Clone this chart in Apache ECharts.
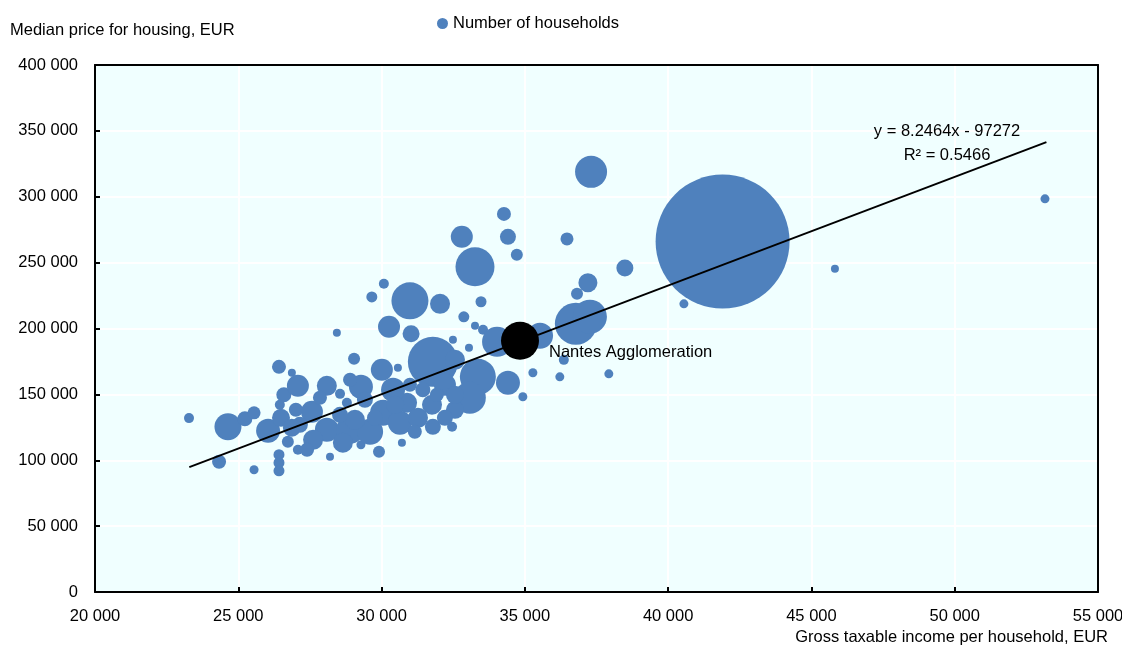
<!DOCTYPE html>
<html>
<head>
<meta charset="utf-8">
<script src="https://cdn.jsdelivr.net/npm/echarts@6/dist/echarts.min.js"></script>
<style>
  html, body { margin: 0; padding: 0; background: #fff; }
  #chart { width: 1122px; height: 646px; }
</style>
</head>
<body>
<div id="chart"></div>
<script>
// gross taxable income per household (EUR)
const income = [
  23280, 24640, 24330, 25550, 26420, 26870, 25230, 25550, 26420, 26420,
  26420, 26040, 26490, 26590, 26450, 27080, 27080, 26730, 28090, 28550,
  29040, 28440, 29280, 30010, 30260, 29660, 30080, 30990, 31030, 32040,
  32800, 33260, 34270, 34410, 34720, 33470, 32870, 33260, 33540, 32490,
  33050, 36470, 37310, 38490, 37200, 36820, 40550, 41900, 45820, 53150,
  36780, 37270, 35530, 34030, 35280, 36220, 36360, 37930, 34410, 34930,
  31790, 33360, 33080, 32460, 30710, 29910, 30570, 31440, 27570, 28090,
  27610, 28900, 28650, 28200, 27400, 29280, 29600, 30050, 30640, 30890,
  30400, 31270, 31790, 31760, 28790, 29070, 32210, 32560,
  30470, 28550, 31160, 32210, 32560, 29420, 27850, 27150, 29770, 31930,
  28900, 30990, 26870, 27010, 32560
];
// median price for housing (EUR)
const price = [
  132000, 125400, 98900, 92800, 170900, 166400, 131500, 136000, 104200, 98100,
  92000, 122400, 132200, 149700, 142100, 156500, 108000, 114000, 156500, 150400,
  177000, 196700, 155800, 168700, 201300, 224000, 233900, 221000, 196000, 218700,
  269600, 246800, 287000, 269600, 255900, 220300, 208900, 202000, 199000, 191400,
  185400, 268000, 318900, 246000, 234700, 226300, 218700, 266000, 245300, 298400,
  203600, 208900, 194500, 189900, 166400, 163300, 176200, 165600, 158800, 148200,
  174700, 163300, 147400, 125400, 113300, 106400, 170200, 153500, 136800, 123100,
  115500, 123100, 113300, 102700, 108000, 111800, 121600, 136000, 128400, 143600,
  153500, 132200, 125400, 142100, 143600, 130700, 157300, 138300,
  142100, 134500, 121600, 132200, 149700, 145900, 147400, 126900, 132200, 149700,
  161100, 157300, 124700, 138300, 176200
];
// number of households
const households = [
  625, 4560, 1225, 510, 1225, 400, 1410, 1060, 756, 756,
  756, 3600, 2025, 1410, 625, 3025, 625, 900, 2500, 625,
  900, 400, 3600, 3025, 3025, 756, 625, 8556, 1806, 2500,
  3025, 9506, 1225, 1600, 900, 756, 756, 400, 625, 400,
  400, 1056, 6400, 1806, 2256, 900, 506, 112225, 400, 506,
  11025, 7225, 4225, 5625, 506, 506, 625, 506, 3600, 506,
  15625, 8100, 6400, 625, 400, 900, 400, 1410, 3025, 3600,
  2500, 4900, 2500, 400, 1225, 506, 4225, 4225, 3600, 2500,
  3600, 2500, 1600, 2500, 625, 2500, 3025, 2025,
  2025, 1600, 1225, 1600, 2025, 1600, 1225, 1600, 1600, 1225,
  1225, 1225, 2025, 1225, 2500
];

const nantes = { name: 'Nantes Agglomeration', income: 34830, price: 190700, households: 9025 };

// trend line shown on the chart
const trendSlope = 8.2464;
const trendIntercept = -97272;
const trendFrom = 23290;
const trendTo = 53200;

const xTicks = [20000, 55000, 5000];
const yTicks = [0, 400000, 50000];

const FONT = "'Liberation Sans', Arial, sans-serif";
const FS = 16.5;
const BLUE = '#4f81bd';

const fmt = v => String(v).replace(/\B(?=(\d{3})+(?!\d))/g, ' ');
const bubble = h => Math.sqrt(h) * 0.4;

const points = income.map((x, i) => [x, price[i], households[i]]);
const trend = [trendFrom, trendTo].map(x => [x, trendSlope * x + trendIntercept]);

const chart = echarts.init(document.getElementById('chart'));

// frame lines (top / right) drawn as extra axes
const frameAxis = {
  type: 'value',
  axisLine: { show: true, onZero: false, lineStyle: { color: '#000', width: 2 } },
  axisTick: { show: false },
  axisLabel: { show: false },
  splitLine: { show: false }
};

const option = {
  animation: false,
  textStyle: { fontFamily: FONT },
  grid: {
    left: 95,
    right: 24,
    top: 65,
    bottom: 54,
    outerBoundsMode: 'none',
    containLabel: false,
    show: true,
    backgroundColor: '#f0ffff',
    borderWidth: 0
  },
  legend: {
    data: ['Number of households'],
    left: 432,
    top: 10,
    icon: 'circle',
    itemWidth: 11,
    itemHeight: 11,
    itemGap: 5,
    textStyle: { fontFamily: FONT, fontSize: FS, color: '#000' }
  },
  xAxis: [
    {
      type: 'value',
      min: xTicks[0],
      max: xTicks[1],
      interval: xTicks[2],
      axisLine: { lineStyle: { color: '#000', width: 2 } },
      axisTick: { show: true, inside: true, length: 5, lineStyle: { color: '#000', width: 2 } },
      axisLabel: { fontFamily: FONT, fontSize: FS, color: '#000', margin: 16, formatter: fmt },
      splitLine: { show: true, lineStyle: { color: '#fff', width: 2 } }
    },
    Object.assign({ position: 'top', min: 0, max: 1 }, frameAxis)
  ],
  yAxis: [
    {
      type: 'value',
      min: yTicks[0],
      max: yTicks[1],
      interval: yTicks[2],
      axisLine: { show: true, lineStyle: { color: '#000', width: 2 } },
      axisTick: { show: true, inside: true, length: 5, lineStyle: { color: '#000', width: 2 } },
      axisLabel: { fontFamily: FONT, fontSize: FS, color: '#000', margin: 17, formatter: fmt },
      splitLine: { show: true, lineStyle: { color: '#fff', width: 2 } }
    },
    Object.assign({ position: 'right', min: 0, max: 1 }, frameAxis)
  ],
  graphic: [
    {
      type: 'text',
      left: 10,
      top: 22,
      style: { text: 'Median price for housing, EUR', font: FS + 'px ' + FONT, fill: '#000' }
    },
    {
      type: 'text',
      x: 1108,
      y: 637,
      style: {
        text: 'Gross taxable income per household, EUR',
        font: FS + 'px ' + FONT,
        fill: '#000',
        align: 'right',
        verticalAlign: 'middle'
      }
    },
    {
      type: 'text',
      x: 947,
      y: 131,
      z: 100,
      style: { text: 'y = 8.2464x - 97272', font: FS + 'px ' + FONT, fill: '#000', align: 'center', verticalAlign: 'middle' }
    },
    {
      type: 'text',
      x: 947,
      y: 155,
      z: 100,
      style: { text: 'R² = 0.5466', font: FS + 'px ' + FONT, fill: '#000', align: 'center', verticalAlign: 'middle' }
    }
  ],
  series: [
    {
      name: 'Number of households',
      type: 'scatter',
      data: points,
      symbolSize: v => bubble(v[2]),
      itemStyle: { color: BLUE, opacity: 1 },
      emphasis: { disabled: true },
      z: 2
    },
    {
      name: 'trend',
      type: 'line',
      data: trend,
      symbol: 'none',
      lineStyle: { color: '#000', width: 2 },
      silent: true,
      z: 3
    },
    {
      name: 'nantes',
      type: 'scatter',
      data: [[nantes.income, nantes.price, nantes.households]],
      symbolSize: v => bubble(v[2]),
      itemStyle: { color: '#000', opacity: 1 },
      label: {
        show: true,
        position: 'right',
        distance: 10,
        offset: [0, 12],
        formatter: nantes.name,
        fontFamily: FONT,
        fontSize: FS,
        color: '#000'
      },
      z: 4
    }
  ]
};

chart.setOption(option);
</script>
</body>
</html>
